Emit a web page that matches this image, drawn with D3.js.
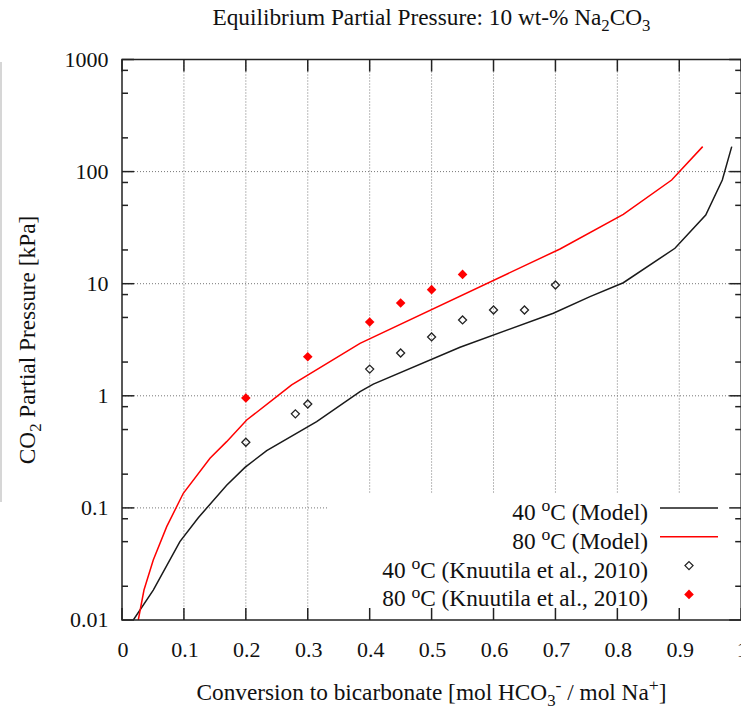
<!DOCTYPE html>
<html>
<head>
<meta charset="utf-8">
<script src="https://cdn.jsdelivr.net/npm/d3@7"></script>
<style>
  body { margin: 0; background: #fff; }
  svg { display: block; font-family: "Liberation Serif", "Times New Roman", serif; }
</style>
</head>
<body>
<svg id="chart" width="741" height="711"></svg>
<script>
// model curves (conversion, pCO2 kPa)
const model40 = [
    [0.0183, 0.01], [0.0505, 0.0185], [0.0935, 0.05], [0.1232, 0.0818], [0.169, 0.159],
    [0.1986, 0.23], [0.2337, 0.324], [0.3144, 0.587], [0.3844, 1.09], [0.4059, 1.27],
    [0.5459, 2.71], [0.6966, 5.45], [0.7558, 7.66], [0.8096, 10.2], [0.893, 20.7],
    [0.9427, 41.0], [0.9695, 84.1], [0.9847, 167]
];
const model80 = [
    [0.0263, 0.01], [0.0355, 0.0185], [0.0505, 0.0343], [0.0722, 0.068], [0.099, 0.135],
    [0.1421, 0.277], [0.169, 0.39], [0.2014, 0.608], [0.2498, 0.982], [0.274, 1.25],
    [0.3844, 2.94], [0.7074, 20.4], [0.8096, 41.6], [0.8877, 84.1], [0.9378, 167]
];
// Knuutila et al., 2010
const exp40 = [
    [0.2, 0.385], [0.28, 0.69], [0.3, 0.845], [0.4, 1.73], [0.45, 2.41],
    [0.5, 3.35], [0.55, 4.75], [0.6, 5.83], [0.65, 5.83], [0.7, 9.73]
];
const exp80 = [
    [0.2, 0.955], [0.3, 2.23], [0.4, 4.55], [0.45, 6.73], [0.5, 8.85], [0.55, 12.1]
];

const xTicks = [0, 0.1, 0.2, 0.3, 0.4, 0.5, 0.6, 0.7, 0.8, 0.9, 1];
const yTicks = [0.01, 0.1, 1, 10, 100, 1000];
const yMinorMult = [2, 5, 8];

const tickFs = 22;
const fs = 23.3;
const svg = d3.select('#chart');
const margin = { left: 122, right: 741.2, top: 59.5, bottom: 620 };

const x = d3.scaleLinear().domain([0, 1]).range([margin.left, margin.right]);
const y = d3.scaleLog().domain([0.01, 1000]).range([margin.bottom, margin.top]);

// cropped edge of neighbouring figure
svg.append('line')
    .attr('x1', 1).attr('x2', 1).attr('y1', 62).attr('y2', 502)
    .attr('stroke', '#c8c8c8').attr('stroke-width', 1.5);

// rich text helper: parts = [[text, 'sub'|'sup'|null], ...]
function rich(textSel, parts, size) {
    let shift = 0;
    parts.forEach(([t, kind]) => {
        const ts = textSel.append('tspan').text(t);
        let target = 0;
        if (kind === 'sub') { target = size * 0.26; ts.attr('font-size', size * 0.72); }
        if (kind === 'sup') { target = -size * 0.38; ts.attr('font-size', size * 0.76); }
        if (target !== shift) ts.attr('dy', target - shift);
        shift = target;
    });
    return textSel;
}

// grid
const grid = svg.append('g')
    .attr('stroke', '#777').attr('stroke-width', 1).attr('stroke-dasharray', '1,2');
xTicks.slice(1, -1).forEach(v => {
    grid.append('line').attr('x1', x(v)).attr('x2', x(v))
        .attr('y1', margin.top).attr('y2', margin.bottom);
});
yTicks.slice(1, -1).forEach(v => {
    grid.append('line').attr('x1', margin.left).attr('x2', margin.right)
        .attr('y1', y(v)).attr('y2', y(v));
});

const clipId = 'plotclip';
svg.append('clipPath').attr('id', clipId).append('rect')
    .attr('x', margin.left).attr('y', margin.top)
    .attr('width', margin.right - margin.left).attr('height', margin.bottom - margin.top);

const line = d3.line().x(d => x(d[0])).y(d => y(d[1]));
const plot = svg.append('g').attr('clip-path', `url(#${clipId})`);

plot.append('path').datum(model40).attr('d', line)
    .attr('fill', 'none').attr('stroke', '#1a1a1a').attr('stroke-width', 1.5);
plot.append('path').datum(model80).attr('d', line)
    .attr('fill', 'none').attr('stroke', '#ff0000').attr('stroke-width', 1.5);

const diamond = r => `M0,${-r}L${r},0L0,${r}L${-r},0Z`;

plot.selectAll('.e40').data(exp40).enter().append('path')
    .attr('class', 'e40')
    .attr('transform', d => `translate(${x(d[0])},${y(d[1])})`)
    .attr('d', diamond(4))
    .attr('fill', 'none').attr('stroke', '#222').attr('stroke-width', 1.3);
plot.selectAll('.e80').data(exp80).enter().append('path')
    .attr('class', 'e80')
    .attr('transform', d => `translate(${x(d[0])},${y(d[1])})`)
    .attr('d', diamond(4.8))
    .attr('fill', '#ff0000').attr('stroke', 'none');

// legend (opaque box)
const legend = svg.append('g');
legend.append('rect')
    .attr('x', 327).attr('y', 493)
    .attr('width', margin.right - 327).attr('height', margin.bottom - 493)
    .attr('fill', '#fff');

const legendRows = [
    { parts: [['40 '], ['o', 'sup'], ['C (Model)']], type: 'line', color: '#1a1a1a' },
    { parts: [['80 '], ['o', 'sup'], ['C (Model)']], type: 'line', color: '#ff0000' },
    { parts: [['40 '], ['o', 'sup'], ['C (Knuutila et al., 2010)']], type: 'open', color: '#222' },
    { parts: [['80 '], ['o', 'sup'], ['C (Knuutila et al., 2010)']], type: 'fill', color: '#ff0000' }
];
legendRows.forEach((row, i) => {
    const ry = 508 + i * 28.8;
    rich(legend.append('text')
        .attr('x', 648).attr('y', ry + 12)
        .attr('text-anchor', 'end').attr('font-size', fs).attr('fill', '#111'), row.parts, fs);
    if (row.type === 'line') {
        legend.append('line').attr('x1', 660).attr('x2', 718).attr('y1', ry).attr('y2', ry)
            .attr('stroke', row.color).attr('stroke-width', 1.5);
    } else if (row.type === 'open') {
        legend.append('path').attr('transform', `translate(689,${ry})`).attr('d', diamond(4))
            .attr('fill', 'none').attr('stroke', row.color).attr('stroke-width', 1.3);
    } else {
        legend.append('path').attr('transform', `translate(689,${ry})`).attr('d', diamond(4.8))
            .attr('fill', row.color);
    }
});

// axes: border, ticks
const axisG = svg.append('g').attr('stroke', '#222').attr('stroke-width', 1.5);
axisG.append('rect')
    .attr('x', margin.left).attr('y', margin.top)
    .attr('width', margin.right - margin.left).attr('height', margin.bottom - margin.top)
    .attr('fill', 'none');

const majorLen = 12, minorLen = 6;
xTicks.forEach(v => {
    axisG.append('line').attr('x1', x(v)).attr('x2', x(v))
        .attr('y1', margin.bottom).attr('y2', margin.bottom - majorLen);
    axisG.append('line').attr('x1', x(v)).attr('x2', x(v))
        .attr('y1', margin.top).attr('y2', margin.top + majorLen);
});
yTicks.forEach((v, i) => {
    [[margin.left, 1], [margin.right, -1]].forEach(([x0, dir]) => {
        axisG.append('line').attr('x1', x0).attr('x2', x0 + dir * majorLen)
            .attr('y1', y(v)).attr('y2', y(v));
        if (i < yTicks.length - 1) {
            yMinorMult.forEach(m => {
                axisG.append('line').attr('x1', x0).attr('x2', x0 + dir * minorLen)
                    .attr('y1', y(v * m)).attr('y2', y(v * m));
            });
        }
    });
});

// tick labels
const labels = svg.append('g').attr('font-size', tickFs).attr('fill', '#111');
xTicks.forEach(v => {
    labels.append('text').attr('x', x(v) + 1).attr('y', 657)
        .attr('text-anchor', 'middle').text(d3.format('~g')(v));
});
yTicks.forEach(v => {
    labels.append('text').attr('x', 108.5).attr('y', y(v) + 7)
        .attr('text-anchor', 'end').text(String(v));
});

// titles
rich(svg.append('text').attr('x', 431.5).attr('y', 25)
    .attr('text-anchor', 'middle').attr('font-size', fs).attr('fill', '#111'),
    [['Equilibrium Partial Pressure: 10 wt-% Na'], ['2', 'sub'], ['CO'], ['3', 'sub']], fs);

rich(svg.append('text').attr('x', 431.5).attr('y', 700)
    .attr('text-anchor', 'middle').attr('font-size', fs).attr('fill', '#111'),
    [['Conversion to bicarbonate [mol HCO'], ['3', 'sub'], ['-', 'sup'], [' / mol Na'], ['+', 'sup'], [']']], fs);

rich(svg.append('text').attr('transform', 'translate(35,340) rotate(-90)')
    .attr('text-anchor', 'middle').attr('font-size', fs).attr('fill', '#111'),
    [['CO'], ['2', 'sub'], [' Partial Pressure [kPa]']], fs);
</script>
</body>
</html>
